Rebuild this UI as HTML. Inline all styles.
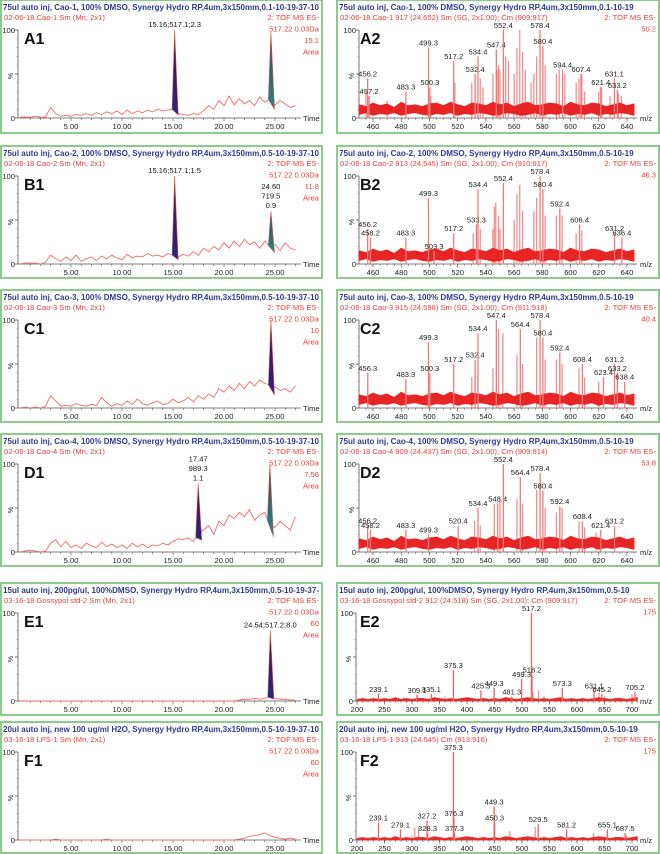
<!DOCTYPE html>
<html><head><meta charset="utf-8"><style>
html,body{margin:0;padding:0;background:#fff;}
svg{display:block;font-family:"Liberation Sans",sans-serif;}
</style></head><body>
<svg id="fig" width="660" height="854" viewBox="0 0 660 854" xmlns="http://www.w3.org/2000/svg">
<defs>
<linearGradient id="gNavy" x1="0" y1="0" x2="0" y2="1"><stop offset="0" stop-color="#5a0a3a"/><stop offset="1" stop-color="#1c2a8a"/></linearGradient>
<linearGradient id="gTeal" x1="0" y1="0" x2="0" y2="1"><stop offset="0" stop-color="#3a4a5a"/><stop offset="1" stop-color="#1a8a80"/></linearGradient>
</defs>
</svg>
<script>
// ---------- chromatogram data (t = 0..27 min, step 0.5) ----------
const traceA1=[1,1,1,2,1,1,12,5,2,3,2,4,3,5,3,6,4,7,5,8,4,9,5,8,6,9,7,10,8,9,10,5,4,3,5,4,8,14,10,20,14,25,15,22,16,20,14,24,18,22,15,20,16,12,14];
const traceB1=[0,1,1,1,0,2,10,6,3,8,4,10,3,6,8,4,9,6,10,7,5,11,7,9,8,12,9,10,8,12,10,8,11,9,14,10,18,14,20,16,24,18,26,20,28,22,25,18,26,20,22,15,24,18,16];
const traceC1=[0,1,0,1,0,2,14,8,2,3,2,5,3,2,4,3,12,6,2,5,3,8,4,10,5,3,6,8,4,5,10,6,8,12,7,14,10,16,12,22,18,25,20,28,22,30,25,32,28,26,24,20,22,18,25];
const traceD1=[0,1,2,1,0,1,10,14,6,12,5,8,4,10,7,5,11,6,9,5,8,4,10,6,9,5,8,7,10,8,12,15,14,16,12,20,25,30,20,35,30,42,38,45,40,48,36,42,45,30,28,35,30,25,40];
const traceE1=[0,0,0,0,0,0,0,0,0,0,0,0,0,0,0,0,0,0,0,0,0,0,0,0,0,0,0,0,0,0,0,0,0,0,0,0,0,0,0,0,0,0,0,1,2,2,3,2,3,5,3,2,2,1,1];
const traceF1=[0,0,0,0,0,0,0,1,0,0,0,0,0,0,0,0,0,1,0,0,0,0,0,0,0,0,0,0,0,0,0,0,0,0,0,0,0,0,0,0,0,0,0,1,2,4,5,6,8,5,3,2,1,2,1];
const peakTimesA1=[15.16,24.6], peakHeightsA1=[100,98], peakLabelsA1=[["15.16;517.1;2.3"],[]];
const peakTimesB1=[15.16,24.6], peakHeightsB1=[100,60], peakLabelsB1=[["15.16;517.1;1.5"],["24.60","719.5","0.9"]];
const peakTimesC1=[24.6], peakHeightsC1=[100], peakLabelsC1=[[]];
const peakTimesD1=[17.47,24.5], peakHeightsD1=[78,100], peakLabelsD1=[["17.47","989.3","1.1"],[]];
const peakTimesE1=[24.54], peakHeightsE1=[80], peakLabelsE1=[["24.54;517.2;8.0"]];
const peakTimesF1=[], peakHeightsF1=[], peakLabelsF1=[];
const timeTicks=[5,10,15,20,25];
const timeTickLabels=["5.00","10.00","15.00","20.00","25.00"];

// ---------- spectrum data ----------
const mzA2=[456.2,457.2,483.3,499.3,500.3,517.2,532.4,534.4,547.4,552.4,578.4,580.4,594.4,607.4,621.4,631.1,633.2];
const intA2=[45,25,30,80,35,65,50,70,78,100,100,82,55,50,35,45,32];
const minorMzA2=[455,470,501,518,530,536,538,545,548,549,550,554,556,560,562,564,566,568,572,574,576,582,590,592,596,604,606,608,610,620,622,628,634,636];
const minorIntA2=[30,20,25,40,40,45,35,50,55,60,55,70,65,50,80,100,75,55,40,50,70,60,50,55,50,40,45,50,30,30,35,25,28,25];
const mzB2=[456.2,458.2,483.3,499.3,503.3,517.2,533.3,534.4,552.4,578.4,580.4,592.4,606.4,631.2,636.4];
const intB2=[40,30,30,75,15,35,45,85,92,100,85,63,45,35,30];
const minorMzB2=[531,536,545,546,547,549,550,560,562,564,566,574,576,582,590,594,604,608];
const minorIntB2=[35,40,40,65,70,55,40,50,80,90,60,60,75,55,55,55,35,38];
const mzC2=[456.3,483.3,499.3,500.3,517.2,532.4,534.4,547.4,564.4,578.4,580.4,592.4,608.4,623.4,631.2,633.2,638.4];
const intC2=[40,33,75,40,50,55,85,100,90,100,80,63,50,35,50,40,30];
const minorMzC2=[530,545,549,552,562,566,576,582,590,594,606,610,620];
const minorIntC2=[35,45,90,85,60,50,80,55,55,50,45,35,30];
const mzD2=[456.2,458.2,483.3,499.3,520.4,534.4,548.4,552.4,564.4,578.4,580.4,592.4,608.4,621.4,631.2];
const intD2=[30,25,25,20,30,50,55,100,85,90,70,52,35,25,30];
const minorMzD2=[532,536,546,550,562,566,576,582,590,594,606,610,618];
const minorIntD2=[35,30,55,60,60,55,70,50,45,50,35,28,22];
const mzE2=[239.1,309.1,335.1,375.3,425.3,449.3,481.3,499.3,517.2,518.2,573.3,631.1,645.2,705.2];
const intE2=[8,7,8,35,12,15,5,25,100,30,15,12,8,10];
const minorMzE2=[285,310,360,520,530,540,640,650,700];
const minorIntE2=[4,5,5,10,12,6,10,6,8];
const mzF2=[239.1,279.1,327.2,328.3,375.3,376.3,377.3,449.3,450.3,529.5,581.2,655.1,687.5];
const intF2=[20,12,22,8,100,25,8,38,20,18,12,12,8];
const minorMzF2=[300,305,312,478,524,630,690];
const minorIntF2=[5,14,14,10,15,8,5];
const noiseTopAD=[15,13,17,14,16,12,18,14,15,13,16,17,14,18,15,13,17,16,14,18,15,17,13,16,18,14,15,17,16,13,18,15,14,17,16,13,15,17,14,16];
const noiseBotAD=[4,6,3,5,4,6,3,5,6,4,3,5,4,6,3,5,4,6,5,3,4,6,5,3,4,6,3,5,4,6,3,5,4,6,3,5,4,6,5,3];
const noiseTopEF=[2,3,2,3,2,3,2,4,2,3,2,3,3,2,4,3,2,3,2,3,4,3,2,3,2,3,2,4,3,2,3,4,3,2,3,2,3,4,2,3,2,3,2,3,4,3,2,3,3,2,3,4];
const mzTicksAD=[460,480,500,520,540,560,580,600,620,640];
const mzTicksEF=[200,250,300,350,400,450,500,550,600,650,700];

const NS="http://www.w3.org/2000/svg";
const svg=document.getElementById('fig');
function mk(tag,attrs,parent){const e=document.createElementNS(NS,tag);for(const k in attrs)e.setAttribute(k,attrs[k]);(parent||svg).appendChild(e);return e;}
function txt(parent,x,y,s,size,fill,anchor,extra){const t=mk('text',Object.assign({x:x,y:y,'font-size':size,fill:fill,'text-anchor':anchor||'start'},extra||{}),parent);t.textContent=s;return t;}

const rowsY=[0,146,290,434,583,722];
const rowsH=[133,132,132,132,132,131];
const FS=7.6;

function panelFrame(px,py,w,h,name,title,titleLen,sub,tags,lab){
  const g=mk('g',{});
  
  
  const cid='clip-'+name;
  const cp=mk('clipPath',{id:cid},g);mk('rect',{x:px,y:py,width:w,height:h},cp);
  const b=mk('rect',{x:px,y:py,width:w,height:h,fill:'#fff',stroke:'#6cc070','stroke-width':1.6},g);
  
  
  const inner=mk('g',{'clip-path':'url(#'+cid+')'},g);
  const t=txt(inner,px+2,py+10,title,8.6,'#2b3a92','start',{'font-weight':'bold',textLength:titleLen,lengthAdjust:'spacingAndGlyphs'});
  
  
  const s=txt(inner,px+3,py+20,sub,7.6,'#e8413a');
  
  
  tags.forEach((tg,i)=>{const e=txt(inner,px+w-3,py+20+i*11.5,tg,7.6,'#e8413a','end');
    
    });
  const L=txt(inner,px+23,py+44,lab,16,'#111','start',{'font-weight':'bold'});
  
  
  return inner;
}
function yAxis(g,ax,py){
  mk('line',{x1:ax,y1:py+30,x2:ax,y2:py+118,stroke:'#555','stroke-width':0.8},g);
  [0,50,100].forEach(v=>{const y=py+118-v*0.88;mk('line',{x1:ax-3,y1:y,x2:ax,y2:y,stroke:'#555','stroke-width':0.8},g);});
  for(let v=10;v<100;v+=10){const y=py+118-v*0.88;mk('line',{x1:ax-1.5,y1:y,x2:ax,y2:y,stroke:'#777','stroke-width':0.5},g);}
  txt(g,ax-3,py+33,'100',FS,'#222','end');
  txt(g,ax-3,py+121,'0',FS,'#222','end');
  const p=txt(g,ax-5,py+76,'%',7,'#222','middle',{transform:'rotate(-90 '+(ax-5)+' '+(py+76)+')'});
  
  
}

function drawChrom(row,name,title,sub,area,lab,trace,pkT,pkH,pkLab,fills){
  const px=1,py=rowsY[row],w=321;
  const g=panelFrame(px,py,w,rowsH[row],name,title,316,sub,['2: TOF MS ES-','517.22 0.03Da',area,'Area'],lab);
  const X=t=>px+19+t*10.2, Y=v=>py+118-v*0.88;
  yAxis(g,px+17,py);
  mk('line',{x1:px+17,y1:py+118,x2:px+300,y2:py+118,stroke:'#555','stroke-width':0.8},g);
  for(let t=1;t<=27;t++){mk('line',{x1:X(t),y1:py+118,x2:X(t),y2:py+(t%5===0?121:120),stroke:'#555','stroke-width':0.6},g);}
  timeTicks.forEach((t,i)=>{const e=txt(g,X(t),py+129,timeTickLabels[i],FS,'#222','middle');
    
    });
  const tl=txt(g,px+302,py+121,'Time',FS,'#222');
  
  
  const at=t=>{const i=Math.min(trace.length-2,Math.floor(t/0.5));const f=t/0.5-i;return trace[i]*(1-f)+trace[i+1]*f;};
  const pl=mk('polyline',{points:trace.map((v,i)=>X(i*0.5)+','+Y(v)).join(' '),fill:'none',stroke:'#f06a6a','stroke-width':0.9},g);
  
  
  pkT.forEach((t,i)=>{
    const bl=at(t-0.2), br=at(t+0.3);
    const poly=mk('polygon',{points:X(t-0.25)+','+Y(bl)+' '+X(t)+','+Y(pkH[i])+' '+X(t+0.35)+','+Y(br*0.6),fill:fills[i],stroke:'#e05050','stroke-width':0.6},g);
    
    
    const ls=pkLab[i];
    ls.forEach((s,j)=>{const e=txt(g,X(t),Y(pkH[i])-3-(ls.length-1-j)*9.5,s,FS,'#111','middle');
      
      });
  });
}

function drawSpec(row,name,title,sub,tagVal,lab,mz,inten,mMz,mInt,wide){
  const px=337,py=rowsY[row],w=322;
  const titleLen=title.length*4.15;
  const g=panelFrame(px,py,w,rowsH[row],name,title,titleLen,sub,['2: TOF MS ES-',tagVal],lab);
  const X=wide?(m=>px+20+(m-200)*0.55):(m=>px+36+(m-460)*1.411);
  const Y=v=>py+118-v*0.88;
  const ax=wide?px+19:px+22;
  yAxis(g,ax,py);
  mk('line',{x1:ax,y1:py+118,x2:px+300,y2:py+118,stroke:'#555','stroke-width':0.8},g);
  const ticks=wide?mzTicksEF:mzTicksAD;
  const step=wide?10:5;
  for(let m=(wide?200:455);m<=(wide?715:645);m+=step){const x=X(m);if(x<ax)continue;mk('line',{x1:x,y1:py+118,x2:x,y2:py+120,stroke:'#555','stroke-width':0.5},g);}
  ticks.forEach(m=>{mk('line',{x1:X(m),y1:py+118,x2:X(m),y2:py+121.5,stroke:'#555','stroke-width':0.7},g);
    const e=txt(g,X(m),py+129,String(m),FS,'#222','middle');
    
    });
  const ml=txt(g,px+303,py+121,'m/z',FS,'#222');
  
  
  mMz.forEach((m,i)=>{const l=mk('line',{x1:X(m),y1:Y(0),x2:X(m),y2:Y(mInt[i]),stroke:'#f29090','stroke-width':1.3},g);
    
    });
  if(!wide){
    const top=noiseTopAD.map((v,i)=>X(450+i*5)+','+Y(v));
    const bot=noiseBotAD.map((v,i)=>X(450+i*5)+','+Y(v)).reverse();
    const nb=mk('polygon',{points:top.concat(bot).join(' '),fill:'#e82525',stroke:'#e82525','stroke-width':0.8},g);
    
    
  } else {
    const top=noiseTopEF.map((v,i)=>X(200+i*10)+','+Y(v));
    const nb=mk('polygon',{points:top.concat([X(710)+','+Y(0),X(200)+','+Y(0)]).join(' '),fill:'#e82a2a',stroke:'#e82a2a','stroke-width':0.5},g);
    
    
  }
  mz.forEach((m,i)=>{const l=mk('line',{x1:X(m),y1:Y(0),x2:X(m),y2:Y(inten[i]),stroke:wide?'#f06060':'#f07a7a','stroke-width':1.3},g);
    
    
    const e=txt(g,X(m),Y(inten[i])-2,m.toFixed(1),FS,'#222','middle');
    
    });
}

drawChrom(0,'panel-a1','75ul auto inj, Cao-1, 100% DMSO, Synergy Hydro RP,4um,3x150mm,0.1-10-19-37-10','02-06-18 Cao-1 Sm (Mn, 2x1)','15.1','A1',traceA1,peakTimesA1,peakHeightsA1,peakLabelsA1,['url(#gNavy)','url(#gTeal)']);
drawChrom(1,'panel-b1','75ul auto inj, Cao-2, 100% DMSO, Synergy Hydro RP,4um,3x150mm,0.5-10-19-37-10','02-06-18 Cao-2 Sm (Mn, 2x1)','11.8','B1',traceB1,peakTimesB1,peakHeightsB1,peakLabelsB1,['url(#gNavy)','url(#gTeal)']);
drawChrom(2,'panel-c1','75ul auto inj, Cao-3, 100% DMSO, Synergy Hydro RP,4um,3x150mm,0.5-10-19-37-10','02-06-18 Cao-3 Sm (Mn, 2x1)','10','C1',traceC1,peakTimesC1,peakHeightsC1,peakLabelsC1,['url(#gNavy)']);
drawChrom(3,'panel-d1','75ul auto inj, Cao-4, 100% DMSO, Synergy Hydro RP,4um,3x150mm,0.5-10-19-37-10','02-06-18 Cao-4 Sm (Mn, 2x1)','7.56','D1',traceD1,peakTimesD1,peakHeightsD1,peakLabelsD1,['url(#gNavy)','url(#gTeal)']);
drawChrom(4,'panel-e1','15ul auto inj, 200pg/ul, 100%DMSO, Synergy Hydro RP,4um,3x150mm,0.5-10-19-37-','03-16-18 Gossypol std-2 Sm (Mn, 2x1)','60','E1',traceE1,peakTimesE1,peakHeightsE1,peakLabelsE1,['url(#gNavy)']);
drawChrom(5,'panel-f1','20ul auto inj, new 100 ug/ml H2O, Synergy Hydro RP,4um,3x150mm,0.5-10-19-37-10','03-16-18 LPS-1 Sm (Mn, 2x1)','60','F1',traceF1,peakTimesF1,peakHeightsF1,peakLabelsF1,[]);

drawSpec(0,'panel-a2','75ul auto inj, Cao-1, 100% DMSO, Synergy Hydro RP,4um,3x150mm,0.1-10-19','02-06-18 Cao-1  917 (24.652) Sm (SG, 2x1.00); Cm (909:917)','50.2','A2',mzA2,intA2,minorMzA2,minorIntA2,false);
drawSpec(1,'panel-b2','75ul auto inj, Cao-2, 100% DMSO, Synergy Hydro RP,4um,3x150mm,0.5-10-19','02-06-18 Cao-2  913 (24.545) Sm (SG, 2x1.00); Cm (910:917)','46.3','B2',mzB2,intB2,minorMzB2,minorIntB2,false);
drawSpec(2,'panel-c2','75ul auto inj, Cao-3, 100% DMSO, Synergy Hydro RP,4um,3x150mm,0.5-10-19','02-06-18 Cao-3  915 (24.598) Sm (SG, 2x1.00); Cm (911:918)','40.4','C2',mzC2,intC2,minorMzC2,minorIntC2,false);
drawSpec(3,'panel-d2','75ul auto inj, Cao-4, 100% DMSO, Synergy Hydro RP,4um,3x150mm,0.5-10-19','02-06-18 Cao-4  909 (24.437) Sm (SG, 2x1.00); Cm (909:914)','53.8','D2',mzD2,intD2,minorMzD2,minorIntD2,false);
drawSpec(4,'panel-e2','15ul auto inj, 200pg/ul, 100%DMSO, Synergy Hydro RP,4um,3x150mm,0.5-10','03-16-18 Gossypol std-2  912 (24.518) Sm (SG, 2x1.00); Cm (909:917)','175','E2',mzE2,intE2,minorMzE2,minorIntE2,true);
drawSpec(5,'panel-f2','20ul auto inj, new 100 ug/ml H2O, Synergy Hydro RP,4um,3x150mm,0.5-10-19','03-16-18 LPS-1 913 (24.545) Cm (913:916)','175','F2',mzF2,intF2,minorMzF2,minorIntF2,true);
</script>
</body></html>
